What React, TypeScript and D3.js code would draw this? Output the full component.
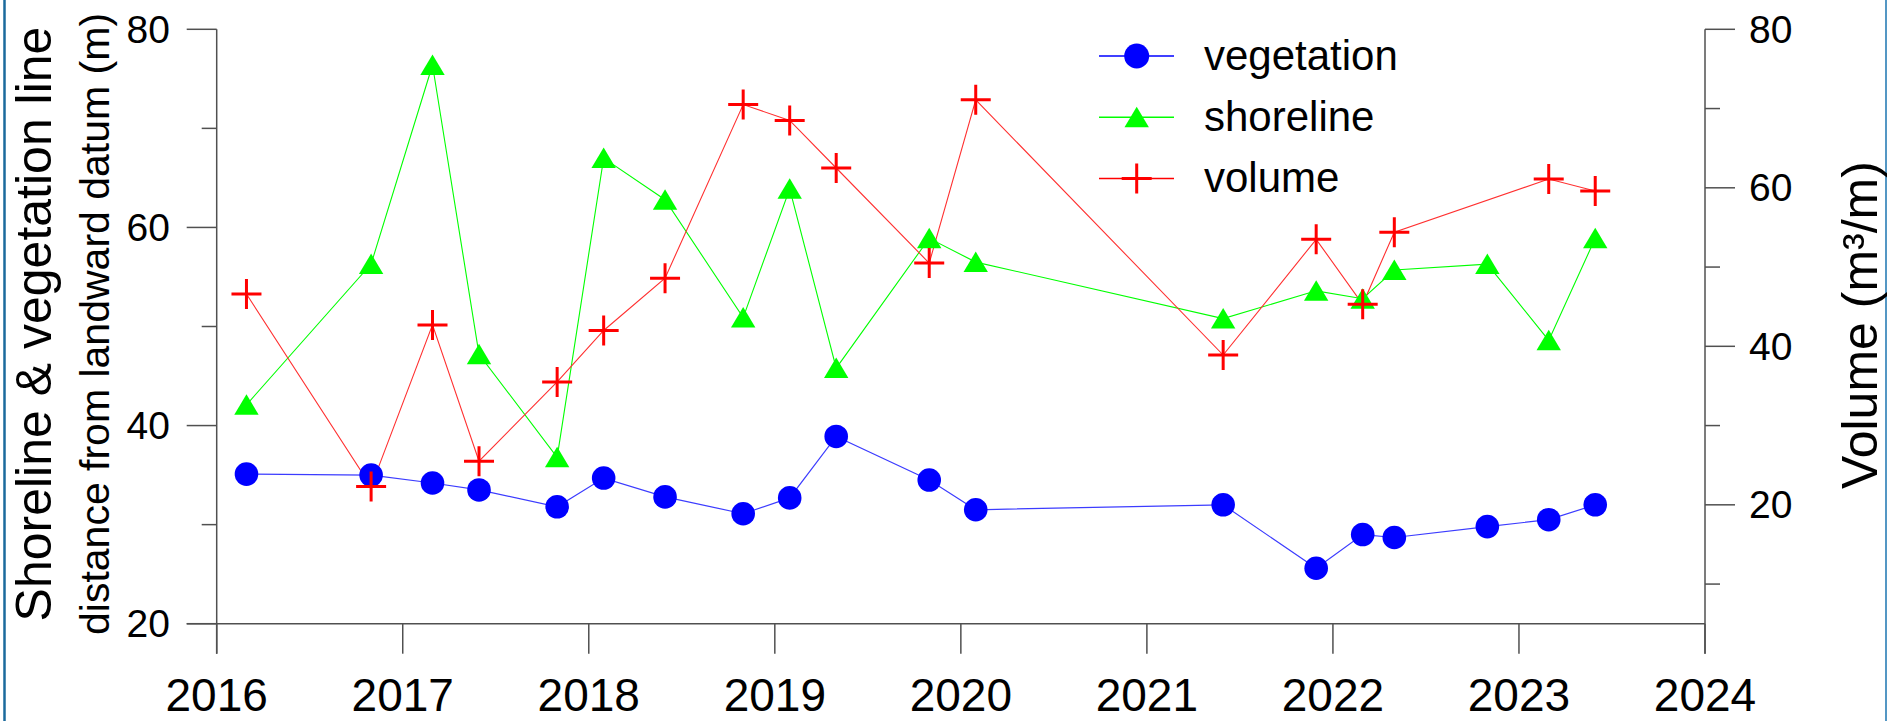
import * as d3 from 'd3';

// survey dates as decimal years
const dates = [
  2016.16, 2016.83, 2017.16, 2017.41, 2017.83, 2018.08, 2018.41, 2018.83, 2019.08, 2019.33,
  2019.83, 2020.08, 2021.41, 2021.91, 2022.16, 2022.33, 2022.83, 2023.16, 2023.41,
];

const vegetation = [
  35.1, 35.0, 34.2, 33.5, 31.8, 34.7, 32.8, 31.1, 32.7, 38.9,
  34.5, 31.5, 32.0, 25.6, 29.0, 28.7, 29.8, 30.5, 32.0,
];

const shoreline = [
  42.1, 56.3, 76.4, 47.2, 36.8, 67.0, 62.8, 50.9, 63.9, 45.8,
  58.9, 56.5, 50.8, 53.6, 52.8, 55.7, 56.3, 48.6, 58.9,
];

// no volume survey in late 2022
const volume: (number | null)[] = [
  46.6, 22.3, 42.7, 25.5, 35.5, 42.0, 48.6, 70.5, 68.5, 62.5,
  50.5, 71.1, 38.9, 53.5, 45.3, 54.4, null, 61.1, 59.6,
];

const yearTicks = [2016, 2017, 2018, 2019, 2020, 2021, 2022, 2023, 2024];
const leftMajor = [20, 40, 60, 80];
const leftMinor = [30, 50, 70];
const rightMajor = [20, 40, 60, 80];
const rightMinor = [10, 30, 50, 70];

const W = 1887;
const H = 721;
const FONT = '"Liberation Sans", Arial, sans-serif';
const AXIS = '#505050';
const BLUE = '#0000ff';
const GREEN = '#00ff00';
const RED = '#ff0000';

const x = d3.scaleLinear().domain([2016, 2024]).range([216.7, 1705]);
const yL = d3.scaleLinear().domain([20, 80]).range([623.7, 29.3]);
const yR = d3.scaleLinear().domain([5, 80]).range([623.7, 29.3]);

type Pt = [number, number];

function Tri({ cx, cy }: { cx: number; cy: number }) {
  return <path d={`M${cx},${cy - 10.5}L${cx + 12.2},${cy + 10}L${cx - 12.2},${cy + 10}Z`} fill={GREEN} />;
}
function Plus({ cx, cy }: { cx: number; cy: number }) {
  return (
    <path d={`M${cx - 15},${cy}H${cx + 15}M${cx},${cy - 15}V${cy + 15}`} stroke={RED} strokeWidth={3} fill="none" />
  );
}

export default function App() {
  const vegPts: Pt[] = dates.map((d, i) => [x(d), yL(vegetation[i])]);
  const shorePts: Pt[] = dates.map((d, i) => [x(d), yL(shoreline[i])]);
  const volPts: Pt[] = dates
    .map((d, i) => (volume[i] == null ? null : ([x(d), yR(volume[i] as number)] as Pt)))
    .filter((p): p is Pt => p !== null);

  const line = d3.line<Pt>();
  const y0 = yL.range()[0];
  const x0 = x.range()[0];
  const x1 = x.range()[1];

  const legend = [
    { label: 'vegetation', color: BLUE, kind: 'c' },
    { label: 'shoreline', color: GREEN, kind: 't' },
    { label: 'volume', color: RED, kind: 'p' },
  ];

  return (
    <svg width={W} height={H} style={{ position: 'absolute', left: 0, top: 0, background: '#fff' }} fontFamily={FONT}>
      <rect x={0} y={0} width={W} height={H} fill="#fff" />
      {/* frame edges */}
      <line x1={4.5} x2={4.5} y1={0} y2={H} stroke="#1b6a9c" strokeWidth={2.5} />
      <line x1={1886} x2={1886} y1={0} y2={H} stroke="#1b74b0" strokeWidth={1.5} />

      {/* series lines */}
      <path d={line(vegPts) ?? ''} fill="none" stroke="#3c3cff" strokeWidth={1.2} />
      <path d={line(shorePts) ?? ''} fill="none" stroke={GREEN} strokeWidth={1.1} />
      <path d={line(volPts) ?? ''} fill="none" stroke="#ff3030" strokeWidth={1.1} />

      {vegPts.map((p, i) => <circle key={'v' + i} cx={p[0]} cy={p[1]} r={11.8} fill={BLUE} />)}
      {shorePts.map((p, i) => <Tri key={'s' + i} cx={p[0]} cy={p[1]} />)}
      {volPts.map((p, i) => <Plus key={'p' + i} cx={p[0]} cy={p[1]} />)}

      {/* left axis */}
      <line x1={x0} x2={x0} y1={yL(80)} y2={y0 + 30} stroke={AXIS} strokeWidth={1.5} />
      {leftMajor.map(v => (
        <g key={'lm' + v}>
          <line x1={x0 - 30} x2={x0} y1={yL(v)} y2={yL(v)} stroke={AXIS} strokeWidth={1.5} />
          <text x={170} y={yL(v)} dy="0.35em" textAnchor="end" fontSize={39} fill="#000">{v}</text>
        </g>
      ))}
      {leftMinor.map(v => (
        <line key={'ln' + v} x1={x0 - 15} x2={x0} y1={yL(v)} y2={yL(v)} stroke={AXIS} strokeWidth={1.5} />
      ))}

      {/* bottom axis */}
      <line x1={x0 - 30} x2={x1} y1={y0} y2={y0} stroke={AXIS} strokeWidth={1.5} />
      {yearTicks.map(t => (
        <g key={'x' + t}>
          <line x1={x(t)} x2={x(t)} y1={y0} y2={y0 + 30} stroke={AXIS} strokeWidth={1.5} />
          <text x={x(t)} y={711} textAnchor="middle" fontSize={46} fill="#000">{t}</text>
        </g>
      ))}

      {/* right axis */}
      <line x1={x1} x2={x1} y1={yR(80)} y2={y0 + 30} stroke={AXIS} strokeWidth={1.5} />
      {rightMajor.map(v => (
        <g key={'rm' + v}>
          <line x1={x1} x2={x1 + 30} y1={yR(v)} y2={yR(v)} stroke={AXIS} strokeWidth={1.5} />
          <text x={1749} y={yR(v)} dy="0.35em" textAnchor="start" fontSize={39} fill="#000">{v}</text>
        </g>
      ))}
      {rightMinor.map(v => (
        <line key={'rn' + v} x1={x1} x2={x1 + 15} y1={yR(v)} y2={yR(v)} stroke={AXIS} strokeWidth={1.5} />
      ))}

      {/* axis titles */}
      <text transform="translate(51,324) rotate(-90)" textAnchor="middle" fontSize={50} fill="#000">
        Shoreline &amp; vegetation line
      </text>
      <text transform="translate(109,324) rotate(-90)" textAnchor="middle" fontSize={41} fill="#000">
        distance from landward datum (m)
      </text>
      <text transform="translate(1877,325) rotate(-90)" textAnchor="middle" fontSize={50} fill="#000">
        Volume (m³/m)
      </text>

      {/* legend */}
      {legend.map((l, i) => {
        const ly = 56 + i * 61.2;
        return (
          <g key={l.label}>
            <line x1={1099} x2={1174} y1={ly} y2={ly} stroke={l.color} strokeWidth={1.5} />
            {l.kind === 'c' && <circle cx={1136.7} cy={ly} r={12.5} fill={BLUE} />}
            {l.kind === 't' && <Tri cx={1136.7} cy={ly} />}
            {l.kind === 'p' && <Plus cx={1136.7} cy={ly} />}
            <text x={1204} y={ly + 14} fontSize={42} fill="#000">{l.label}</text>
          </g>
        );
      })}
    </svg>
  );
}
